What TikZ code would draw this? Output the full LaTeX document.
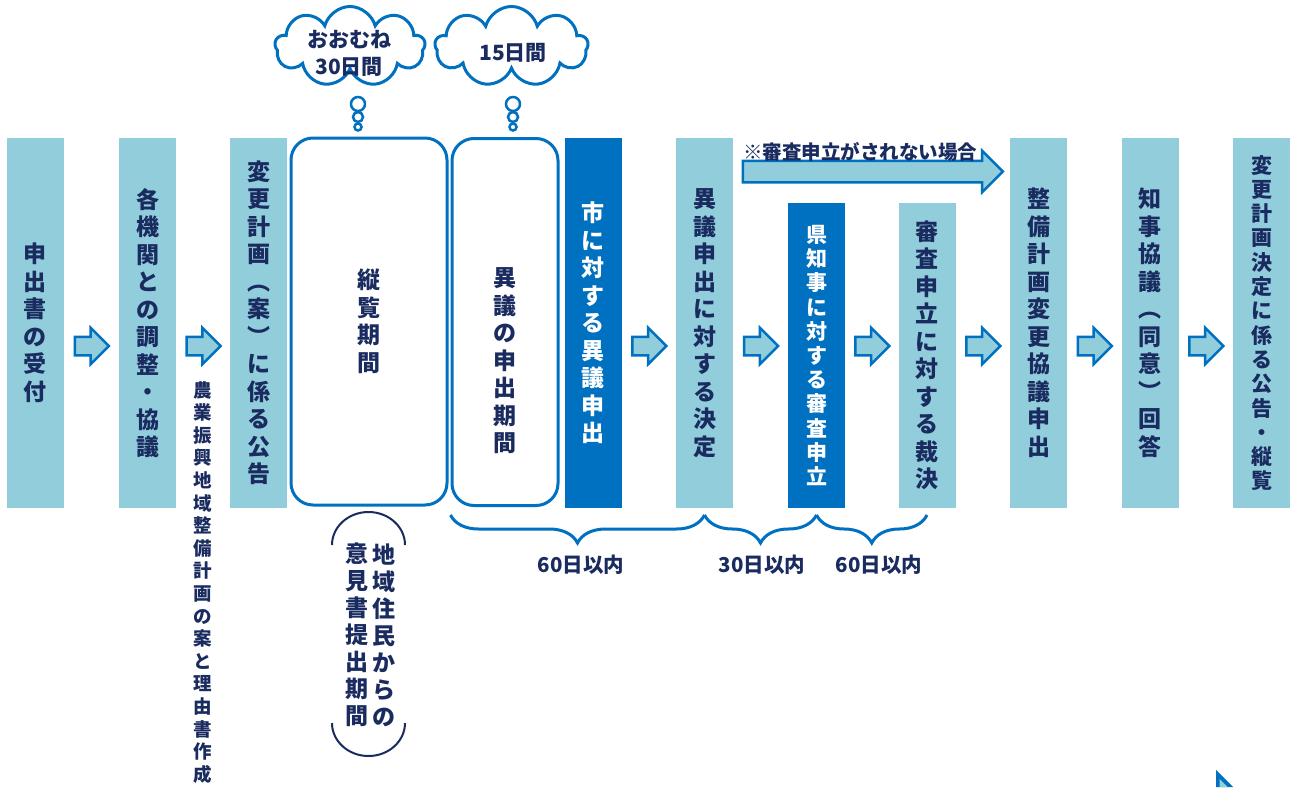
\documentclass[tikz,border=0pt]{standalone}
\usepackage{fontspec}
\newfontfamily\jp{Noto Sans CJK JP}
\usepackage{tikz}
\usetikzlibrary{shapes.symbols,shapes.arrows,decorations.pathreplacing,calc}
\definecolor{paleblue}{HTML}{92CDDC}
\definecolor{deepblue}{HTML}{0070C0}
\definecolor{inkblue}{HTML}{1A2B5F}
\newcommand\vfont[2]{\jp\bfseries\fontsize{#1}{#2}\selectfont}

\begin{document}
\begin{tikzpicture}[x=1pt,y=-1pt,
    stage/.style={fill=paleblue, minimum width=57, minimum height=370, inner sep=0,
      text=inkblue, align=center, font=\vfont{23}{27.5}},
    darkstage/.style={stage, fill=deepblue, text=white},
    window/.style={draw=deepblue, line width=3, rounded corners=22, fill=white,
      minimum height=367, inner sep=0, text=inkblue, align=center, font=\vfont{23}{27.5}},
    vlabel/.style={inner sep=0, text=inkblue, align=center, font=\vfont{23}{27.5}},
    nextarrow/.style={single arrow, draw=deepblue, fill=paleblue, line width=2.5, xshift=-4,
      inner xsep=0, inner ysep=8, single arrow head extend=9, minimum height=34},
    thought/.style={cloud, cloud puffs=9, cloud ignores aspect, draw=deepblue,
      line width=3, fill=white, minimum width=150, minimum height=80},
    bubble/.style={draw=deepblue, line width=2.5, fill=white},
    span/.style={decorate, decoration={brace, mirror, amplitude=28}, draw=deepblue, line width=3},
    spantext/.style={inner sep=0, text=inkblue, font=\vfont{20.5}{22}}]
  \useasboundingbox (0,0) rectangle (1290,787);

  % clouds
  \node[thought] (cloud1) at (350,46.5) {};
  \node[thought, minimum width=153] (cloud2) at (511.5,46.5) {};
  \foreach \x in {358,513}
    \foreach \y/\r in {104/7,117/5,127/3.5}
      \draw[bubble] (\x,\y) circle[radius=\r];
  \node[vlabel, font=\vfont{21}{27}] (cloudtext1) at (349,53.5) {おおむね\\30日間};
  \node[vlabel, font=\vfont{21}{27}] (cloudtext2) at (513,53) {15日間};

  % stages
  \node[stage] (c1) at (35,323) {申\\出\\書\\の\\受\\付};
  \node[stage] (c2) at (147.5,323) {各\\機\\関\\と\\の\\調\\整\\・\\協\\議};
  \node[stage] (c3) at (258.5,323) {変\\更\\計\\画\\︵\\案\\︶\\に\\係\\る\\公\\告};
  \node[window, minimum width=156] (c4) at (369,321.5) {縦\\覧\\期\\間};
  \node[window, minimum width=106] (c5) at (505,322) {};
  \node[vlabel] (c5text) at (505,361) {異\\議\\の\\申\\出\\期\\間};
  \node[darkstage] (c6) at (593,323) {市\\に\\対\\す\\る\\異\\議\\申\\出};
  \node[stage] (c7) at (704.5,323) {異\\議\\申\\出\\に\\対\\す\\る\\決\\定};
  \node[darkstage, minimum height=305, font=\vfont{21}{24.2}] (c8) at (816.5,355.5)
    {県\\知\\事\\に\\対\\す\\る\\審\\査\\申\\立};
  \node[stage, minimum height=305] (c9) at (927,355.5) {審\\査\\申\\立\\に\\対\\す\\る\\裁\\決};
  \node[stage] (c10) at (1038.5,323) {整\\備\\計\\画\\変\\更\\協\\議\\申\\出};
  \node[stage] (c11) at (1150,323) {知\\事\\協\\議\\︵\\同\\意\\︶\\回\\答};
  \node[stage, font=\vfont{21}{24.3}] (c12) at (1261.5,323)
    {変\\更\\計\\画\\決\\定\\に\\係\\る\\公\\告\\・\\縦\\覧};

  % arrows between stages
  \coordinate (row) at (0,346);
  \foreach \a/\b in {c1/c2,c2/c3,c6/c7,c7/c8,c8/c9,c9/c10,c10/c11,c11/c12}{
    \coordinate (m) at ($(\a.east)!.5!(\b.west)$);
    \node[nextarrow] (to\b) at (m |- row) {};
  }
  \coordinate (skiprow) at (0,171.5);
  \coordinate (m) at ($(c7.east)!.5!(c10.west)$);
  \node[nextarrow, inner ysep=9.5, single arrow head extend=10, minimum height=260] (skip) at (m |- skiprow) {};
  \node[spantext, font=\vfont{19.5}{21}] (skiptext) at (860,152) {※審査申立がされない場合};

  \node[vlabel, font=\vfont{18.5}{22.6}, anchor=north] (draftnote) at (203,381)
    {農\\業\\振\\興\\地\\域\\整\\備\\計\\画\\の\\案\\と\\理\\由\\書\\作\\成};

  % periods below
  \coordinate (brow) at (0,515);
  \draw[span] (c5.south west |- brow) -- (c7.south |- brow);
  \draw[span] (c7.south |- brow) -- (c8.south |- brow);
  \draw[span] (c8.south |- brow) -- (c9.south |- brow);
  \node[spantext] (days1) at (581,565) {60日以内};
  \node[spantext] (days2) at (762,565) {30日以内};
  \node[spantext] (days3) at (879,565) {60日以内};

  % residents' opinion period
  \node[vlabel, font=\vfont{23}{27}] (res1) at (383.5,635) {地\\域\\住\\民\\か\\ら\\の};
  \node[vlabel, font=\vfont{23}{27}] (res2) at (356.5,635) {意\\見\\書\\提\\出\\期\\間};
  \draw[inkblue, line width=2] (332,545) arc[start angle=180, end angle=360, x radius=36.5, y radius=33];
  \draw[inkblue, line width=2] (332,723) arc[start angle=180, end angle=0, x radius=36.5, y radius=33];

  % corner piece
  \fill[deepblue] (1216,770) -- (1216,787) -- (1233,787) -- cycle;
  \fill[paleblue] (1219.5,779) -- (1219.5,787) -- (1227.5,787) -- cycle;
\end{tikzpicture}
\end{document}
